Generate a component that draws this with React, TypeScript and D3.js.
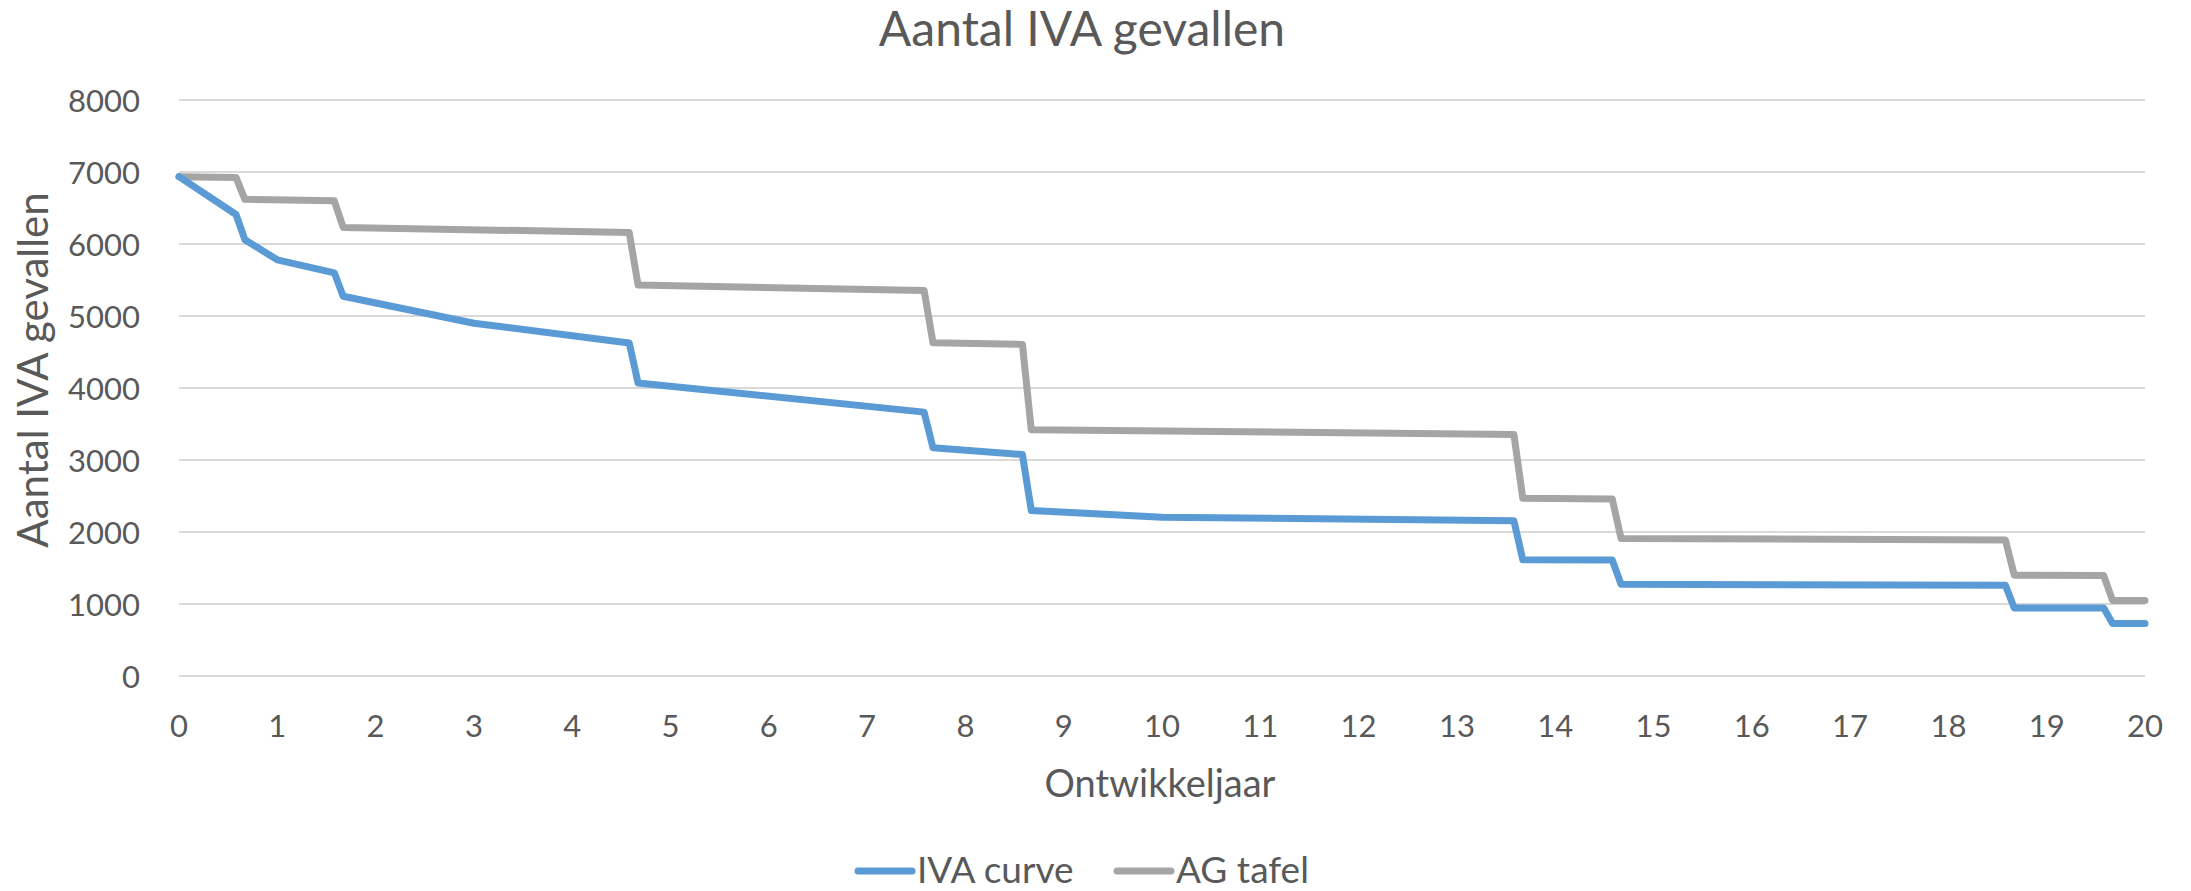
import React, { useEffect, useRef } from "react";
import * as d3 from "d3";

// IVA curve: corner points (years, cases)
const ivaYears = [0, 0.58, 0.67, 1, 1.58, 1.67, 3, 4.58, 4.67, 7.58, 7.67, 8.58, 8.67, 10, 13.58, 13.67, 14.58, 14.67, 18.58, 18.67, 19.58, 19.67, 20];
const ivaValues = [6935, 6410, 6060, 5780, 5600, 5275, 4900, 4625, 4070, 3665, 3170, 3075, 2300, 2205, 2155, 1615, 1610, 1275, 1260, 945, 945, 730, 730];

// AG tafel
const agYears = [0, 0.58, 0.67, 1.58, 1.67, 4.58, 4.67, 7.58, 7.67, 8.58, 8.67, 13.58, 13.67, 14.58, 14.67, 18.58, 18.67, 19.58, 19.67, 20];
const agValues = [6935, 6925, 6620, 6600, 6230, 6160, 5430, 5355, 4630, 4605, 3420, 3355, 2470, 2460, 1910, 1890, 1400, 1395, 1050, 1050];

const xTicks = [0, 1, 2, 3, 4, 5, 6, 7, 8, 9, 10, 11, 12, 13, 14, 15, 16, 17, 18, 19, 20];
const yTicks = [0, 1000, 2000, 3000, 4000, 5000, 6000, 7000, 8000];

const seriesNames = ["IVA curve", "AG tafel"];
const seriesColors = ["#5b9bd5", "#a5a5a5"];

const W = 2191;
const H = 891;
const FONT = "Lato, 'Open Sans', sans-serif";
const TEXT = "#595959";

const App = () => {
  const svg = useRef(null);

  useEffect(() => {
    const root = d3.select(svg.current);
    root.selectAll("*").remove();

    const x = d3.scaleLinear().domain([0, 20]).range([179, 2145]);
    const y = d3.scaleLinear().domain([0, 8000]).range([676, 100]);

    // gridlines
    root.append("g")
      .selectAll("line")
      .data(yTicks)
      .join("line")
      .attr("x1", x(0))
      .attr("x2", x(20))
      .attr("y1", (d) => y(d))
      .attr("y2", (d) => y(d))
      .attr("stroke", "#d9d9d9")
      .attr("stroke-width", 2);

    // y tick labels
    root.append("g")
      .selectAll("text")
      .data(yTicks)
      .join("text")
      .attr("x", 140)
      .attr("y", (d) => y(d) + 12)
      .attr("text-anchor", "end")
      .attr("font-size", 31)
      .attr("font-family", FONT)
      .attr("fill", TEXT)
      .text((d) => d);

    // x tick labels
    root.append("g")
      .selectAll("text")
      .data(xTicks)
      .join("text")
      .attr("x", (d) => x(d))
      .attr("y", 737)
      .attr("text-anchor", "middle")
      .attr("font-size", 31)
      .attr("font-family", FONT)
      .attr("fill", TEXT)
      .text((d) => d);

    const line = d3.line()
      .x((d) => x(d[0]))
      .y((d) => y(d[1]));

    const series = [
      d3.zip(ivaYears, ivaValues),
      d3.zip(agYears, agValues),
    ];

    // grey first, blue on top
    [1, 0].forEach((i) => {
      root.append("path")
        .datum(series[i])
        .attr("d", line)
        .attr("fill", "none")
        .attr("stroke", seriesColors[i])
        .attr("stroke-width", 7)
        .attr("stroke-linejoin", "round")
        .attr("stroke-linecap", "round");
    });

    // titles
    root.append("text")
      .attr("x", 1082)
      .attr("y", 46)
      .attr("text-anchor", "middle")
      .attr("font-size", 48)
      .attr("font-family", FONT)
      .attr("fill", TEXT)
      .text("Aantal IVA gevallen");

    root.append("text")
      .attr("x", 1160)
      .attr("y", 797)
      .attr("text-anchor", "middle")
      .attr("font-size", 38)
      .attr("font-family", FONT)
      .attr("fill", TEXT)
      .text("Ontwikkeljaar");

    root.append("text")
      .attr("transform", "translate(48, 370) rotate(-90)")
      .attr("text-anchor", "middle")
      .attr("font-size", 42)
      .attr("font-family", FONT)
      .attr("fill", TEXT)
      .text("Aantal IVA gevallen");

    // legend
    const legendX = [858, 1117];
    const legend = root.append("g");
    seriesNames.forEach((name, i) => {
      legend.append("line")
        .attr("x1", legendX[i])
        .attr("x2", legendX[i] + 54)
        .attr("y1", 871)
        .attr("y2", 871)
        .attr("stroke", seriesColors[i])
        .attr("stroke-width", 7)
        .attr("stroke-linecap", "round");
      legend.append("text")
        .attr("x", legendX[i] + 59)
        .attr("y", 883)
        .attr("font-size", 37)
        .attr("font-family", FONT)
        .attr("fill", TEXT)
        .text(name);
    });
  }, []);

  return (
    <svg
      ref={svg}
      width={W}
      height={H}
      style={{ position: "absolute", left: 0, top: 0, background: "#fff" }}
    />
  );
};

export default App;
